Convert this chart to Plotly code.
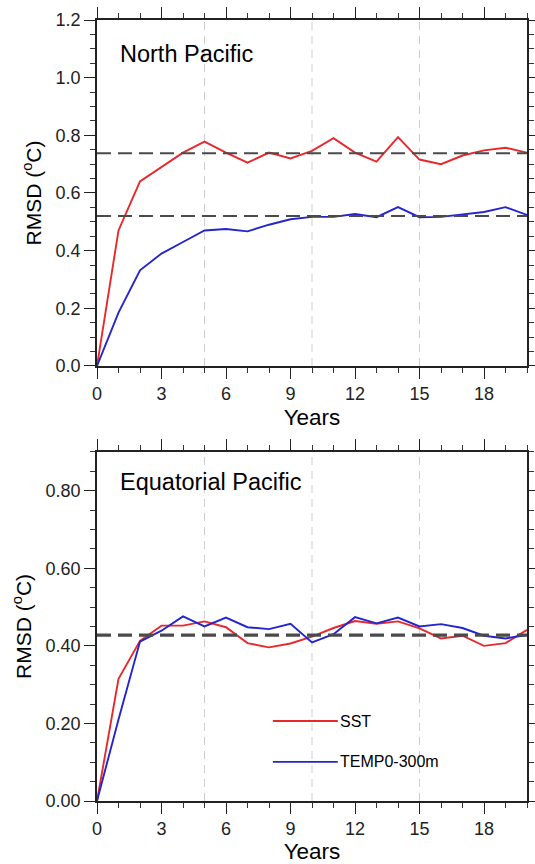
import plotly.graph_objects as go

# ---------------- data ----------------
years = list(range(0, 21))

np_sst = [0.0, 0.47, 0.64, 0.69, 0.74, 0.778, 0.74, 0.705, 0.74, 0.72, 0.746,
          0.79, 0.74, 0.709, 0.794, 0.716, 0.70, 0.73, 0.748, 0.757, 0.74]
np_temp = [0.0, 0.185, 0.332, 0.39, 0.43, 0.47, 0.475, 0.467, 0.49, 0.509, 0.517,
           0.517, 0.527, 0.516, 0.551, 0.516, 0.517, 0.526, 0.534, 0.551, 0.524]

eq_sst = [0.0, 0.315, 0.413, 0.452, 0.452, 0.463, 0.448, 0.407, 0.396, 0.406, 0.424,
          0.446, 0.464, 0.457, 0.463, 0.445, 0.419, 0.426, 0.40, 0.407, 0.441]
eq_temp = [0.0, 0.21, 0.411, 0.439, 0.476, 0.45, 0.473, 0.448, 0.443, 0.457, 0.409,
           0.43, 0.474, 0.458, 0.473, 0.45, 0.456, 0.446, 0.426, 0.419, 0.428]

np_means = [0.738, 0.52]      # SST, TEMP0-300m
eq_means = [0.426, 0.429]     # SST, TEMP0-300m

grid_years = [5, 10, 15]
x_ticks = [0, 3, 6, 9, 12, 15, 18]
panel_titles = ["North Pacific", "Equatorial Pacific"]
series_names = ["SST", "TEMP0-300m"]

RED = "#e8282b"
BLUE = "#2424d0"
FONT = "Liberation Sans, Arial, Helvetica, sans-serif"

fig = go.Figure()

fig.add_trace(go.Scatter(x=years, y=np_sst, mode="lines", line=dict(color=RED, width=1.9),
                         xaxis="x", yaxis="y", showlegend=False))
fig.add_trace(go.Scatter(x=years, y=np_temp, mode="lines", line=dict(color=BLUE, width=1.9),
                         xaxis="x", yaxis="y", showlegend=False))
fig.add_trace(go.Scatter(x=years, y=eq_sst, mode="lines", line=dict(color=RED, width=1.9),
                         xaxis="x2", yaxis="y2", showlegend=False))
fig.add_trace(go.Scatter(x=years, y=eq_temp, mode="lines", line=dict(color=BLUE, width=1.9),
                         xaxis="x2", yaxis="y2", showlegend=False))

shapes = []
# vertical light dashed lines
for xr, yr in [("x", "y domain"), ("x2", "y2 domain")]:
    for gx in grid_years:
        shapes.append(dict(type="line", xref=xr, yref=yr, x0=gx, x1=gx, y0=0, y1=1,
                           line=dict(color="#cfcfcf", width=1, dash="8px,6px"), layer="below"))
# mean lines
for m in np_means:
    shapes.append(dict(type="line", xref="x domain", yref="y", x0=0, x1=1, y0=m, y1=m,
                       line=dict(color="#4a4a4a", width=2, dash="14px,7px")))
for m in eq_means:
    shapes.append(dict(type="line", xref="x2 domain", yref="y2", x0=0, x1=1, y0=m, y1=m,
                       line=dict(color="#4a4a4a", width=2, dash="14px,7px")))
# legend line samples
shapes.append(dict(type="line", xref="x2 domain", yref="y2 domain", x0=0.409, x1=0.56,
                   y0=0.229, y1=0.229, line=dict(color=RED, width=1.9)))
shapes.append(dict(type="line", xref="x2 domain", yref="y2 domain", x0=0.409, x1=0.56,
                   y0=0.112, y1=0.112, line=dict(color=BLUE, width=1.9)))

annotations = [
    dict(text=panel_titles[0], xref="x domain", yref="y domain", x=0.048, y=0.903,
         xanchor="left", yanchor="middle", showarrow=False, font=dict(size=23.5, color="black", family=FONT)),
    dict(text=panel_titles[1], xref="x2 domain", yref="y2 domain", x=0.048, y=0.914,
         xanchor="left", yanchor="middle", showarrow=False, font=dict(size=23.5, color="black", family=FONT)),
    dict(text=series_names[0], xref="x2 domain", yref="y2 domain", x=0.56, y=0.229,
         xanchor="left", yanchor="middle", showarrow=False, font=dict(size=16, color="black", family=FONT)),
    dict(text=series_names[1], xref="x2 domain", yref="y2 domain", x=0.56, y=0.112,
         xanchor="left", yanchor="middle", showarrow=False, font=dict(size=16, color="black", family=FONT)),
]

axis_common = dict(
    showline=True, linecolor="#222222", linewidth=1.5, mirror="allticks",
    ticks="outside", ticklen=11, tickwidth=1.3, tickcolor="#222222",
    showgrid=False, zeroline=False, automargin=False,
    tickfont=dict(size=18, color="#222222", family=FONT),
)

xa = dict(axis_common, range=[0, 20], tickvals=x_ticks,
          minor=dict(dtick=1, ticklen=5, tickwidth=1, tickcolor="#333333", ticks="outside", showgrid=False),
          title=dict(text="Years", font=dict(size=22.5, color="black", family=FONT), standoff=6))

fig.update_layout(
    width=535, height=864,
    margin=dict(l=97, r=8, t=20, b=63, autoexpand=False),
    paper_bgcolor="white", plot_bgcolor="white",
    showlegend=False,
    xaxis=dict(xa, domain=[0, 1], anchor="y"),
    yaxis=dict(axis_common, domain=[0.557, 1.0], range=[0, 1.2], dtick=0.2, tick0=0,
               tickformat=".1f", anchor="x",
               minor=dict(dtick=0.05, ticklen=5, tickwidth=1, tickcolor="#333333", ticks="outside", showgrid=False),
               title=dict(text="RMSD (<sup>o</sup>C)", font=dict(size=21, color="black", family=FONT), standoff=8)),
    xaxis2=dict(xa, domain=[0, 1], anchor="y2"),
    yaxis2=dict(axis_common, domain=[0.0, 0.447], range=[0, 0.9], dtick=0.2, tick0=0,
                tickformat=".2f", anchor="x2",
                minor=dict(dtick=0.05, ticklen=5, tickwidth=1, tickcolor="#333333", ticks="outside", showgrid=False),
                title=dict(text="RMSD (<sup>o</sup>C)", font=dict(size=21, color="black", family=FONT), standoff=8)),
    shapes=shapes,
    annotations=annotations,
    font=dict(family=FONT),
)

fig.write_html("out.html", config={"displayModeBar": False},
               post_script="document.body.style.margin='0';document.body.style.overflow='hidden';")
